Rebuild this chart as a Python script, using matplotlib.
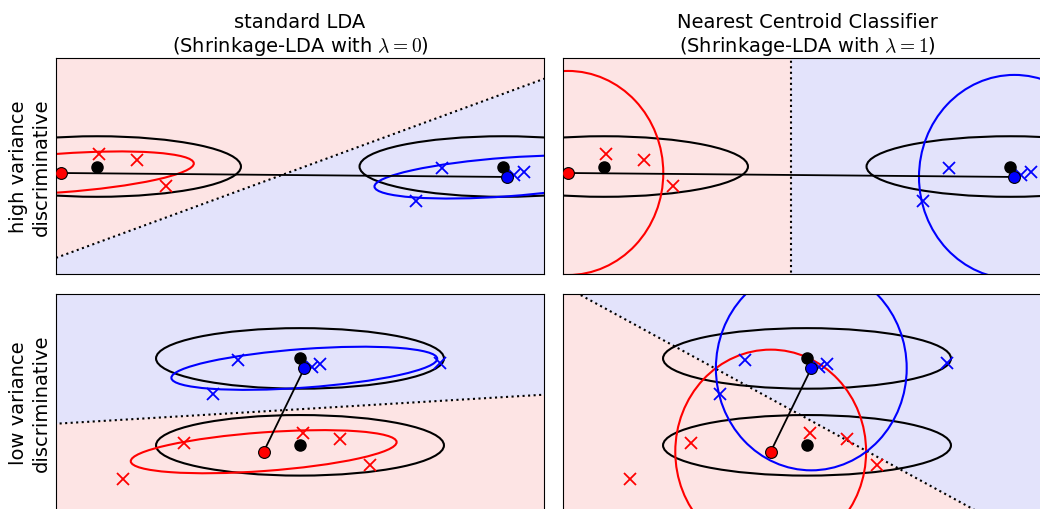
import numpy as np
import matplotlib.pyplot as plt
from matplotlib.patches import Ellipse, Polygon

plt.rcParams['mathtext.fontset'] = 'cm'

# top row: the discriminative direction has high variance
top_red_x = [-4.11, -3.35, -2.74]
top_red_y = [0.23, 0.115, -0.39]
top_blue_x = [2.90, 2.38, 4.39, 4.58]
top_blue_y = [-0.03, -0.665, -0.165, -0.11]
top_true_x = [-4.16, 4.17]
top_true_y = [-0.01, -0.01]
top_red_mean = (-4.90, -0.134)
top_blue_mean = (4.25, -0.21)

# bottom row: the discriminative direction has low variance
bot_red_x = [-2.38, -3.63, 0.055, 0.82, 1.43]
bot_red_y = [-0.785, -1.48, -0.59, -0.70, -1.21]
bot_blue_x = [-1.28, -1.78, 0.25, 0.41, 2.875]
bot_blue_y = [0.81, 0.16, 0.67, 0.735, 0.745]
bot_true_x = [0.0, 0.0]
bot_true_y = [0.835, -0.83]
bot_red_mean = (-0.744, -0.952)
bot_blue_mean = (0.088, 0.646)

# covariance ellipses (full width / height in data units)
true_w, true_h = 5.9, 1.16          # true class covariance
lda_w, lda_h, lda_angle = 5.46, 0.74, 3.9   # pooled sample covariance
ncc_r = 1.955                       # fully shrunk -> identity

# decision boundaries, two points on each line
bnd_lda_top = [(-5, -1.76), (5, 1.67)]
bnd_ncc_top = [(-0.334, -3), (-0.334, 3)]
bnd_lda_bot = [(-5, -0.416), (5, 0.14)]
bnd_ncc_bot = [(-4.69, 2.075), (3.32, -2.01)]

PINK = '#fde4e4'
LILAC = '#e3e3fb'


def shade(ax, bnd, red_mean):
    p0, p1 = np.array(bnd[0], float), np.array(bnd[1], float)
    d = (p1 - p0) / np.linalg.norm(p1 - p0)
    n = np.array([-d[1], d[0]])
    s = np.sign(np.dot(np.array(red_mean) - p0, n))
    a, b = p0 - 50 * d, p0 + 50 * d
    ax.add_patch(Polygon([a, b, b + 50 * s * n, a + 50 * s * n], fc=PINK, ec='none', zorder=0))
    ax.add_patch(Polygon([a, b, b - 50 * s * n, a - 50 * s * n], fc=LILAC, ec='none', zorder=0))
    ax.plot([a[0], b[0]], [a[1], b[1]], ':', color='k', lw=1.5, zorder=1)


def panel(ax, rx, ry, bx, by, tx, ty, rm, bm, bnd, ncc):
    shade(ax, bnd, rm)
    for x, y in zip(tx, ty):
        ax.add_patch(Ellipse((x, y), true_w, true_h, fill=False, ec='k', lw=1.5, zorder=2))
    for m, c in [(rm, 'red'), (bm, 'blue')]:
        if ncc:
            e = Ellipse(m, 2 * ncc_r, 2 * ncc_r, fill=False, ec=c, lw=1.5, zorder=2)
        else:
            e = Ellipse(m, lda_w, lda_h, angle=lda_angle, fill=False, ec=c, lw=1.5, zorder=2)
        ax.add_patch(e)
    ax.plot([rm[0], bm[0]], [rm[1], bm[1]], '-', color='k', lw=1.3, zorder=3)
    ax.plot(rx, ry, 'x', color='red', ms=9, mew=1.3, zorder=4)
    ax.plot(bx, by, 'x', color='blue', ms=9, mew=1.3, zorder=4)
    ax.plot(tx, ty, 'o', color='k', ms=8, zorder=5)
    ax.plot(rm[0], rm[1], 'o', mfc='red', mec='k', mew=0.8, ms=8.5, zorder=6)
    ax.plot(bm[0], bm[1], 'o', mfc='blue', mec='k', mew=0.8, ms=8.5, zorder=6)
    ax.set_xlim(-5, 5)
    ax.set_ylim(-2.069, 2.069)
    ax.set_xticks([])
    ax.set_yticks([])


fig = plt.figure(figsize=(10.4, 5.1), dpi=100)
W, H = 488 / 1040, 216 / 510
ax1 = fig.add_axes([56 / 1040, 235 / 510, W, H])
ax2 = fig.add_axes([563 / 1040, 235 / 510, W, H])
ax3 = fig.add_axes([56 / 1040, -1 / 510, W, H])
ax4 = fig.add_axes([563 / 1040, -1 / 510, W, H])

panel(ax1, top_red_x, top_red_y, top_blue_x, top_blue_y, top_true_x, top_true_y,
      top_red_mean, top_blue_mean, bnd_lda_top, False)
panel(ax2, top_red_x, top_red_y, top_blue_x, top_blue_y, top_true_x, top_true_y,
      top_red_mean, top_blue_mean, bnd_ncc_top, True)
panel(ax3, bot_red_x, bot_red_y, bot_blue_x, bot_blue_y, bot_true_x, bot_true_y,
      bot_red_mean, bot_blue_mean, bnd_lda_bot, False)
panel(ax4, bot_red_x, bot_red_y, bot_blue_x, bot_blue_y, bot_true_x, bot_true_y,
      bot_red_mean, bot_blue_mean, bnd_ncc_bot, True)

ax1.set_title('standard LDA\n(Shrinkage-LDA with $\\lambda=0$)', fontsize=14, pad=5)
ax2.set_title('Nearest Centroid Classifier\n(Shrinkage-LDA with $\\lambda=1$)', fontsize=14, pad=5)
ax1.set_ylabel('high variance\ndiscriminative', fontsize=14)
ax3.set_ylabel('low variance\ndiscriminative', fontsize=14)

fig.savefig('out.png', dpi=100)
